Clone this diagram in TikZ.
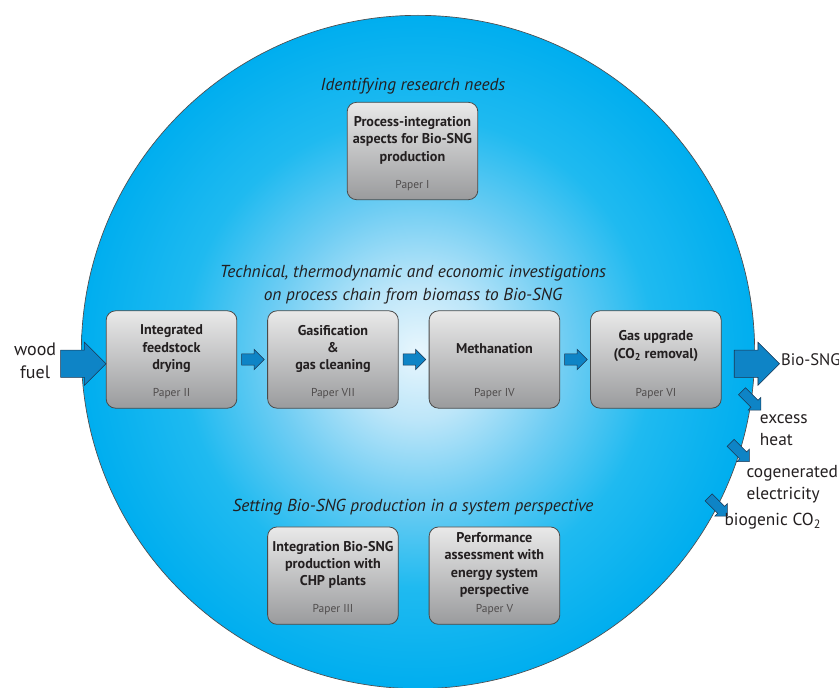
\documentclass[tikz,border=0pt]{standalone}
\usepackage{fontspec}
\setmainfont{PT Sans}
\usetikzlibrary{positioning, shapes.arrows, calc}

\definecolor{hubin}{HTML}{E8F6FD}
\definecolor{hubpale}{HTML}{BDE6F9}
\definecolor{hubmid}{HTML}{6FCDF3}
\definecolor{hubsky}{HTML}{1FBAF0}
\definecolor{hubout}{HTML}{00AEEF}
\definecolor{boxtop}{HTML}{E9E9E9}
\definecolor{boxbot}{HTML}{9A9B9D}
\definecolor{boxline}{HTML}{4A4A4A}
\definecolor{flowfill}{HTML}{0E84C6}
\definecolor{flowline}{HTML}{1C3550}
\definecolor{ink}{HTML}{231F20}

% pale centre fading to cyan at the rim
\pgfdeclareradialshading{hubglow}{\pgfpoint{0bp}{0bp}}{%
  color(0bp)=(hubin); color(5bp)=(hubpale); color(11bp)=(hubmid);
  color(17.5bp)=(hubsky); color(25bp)=(hubout); color(50bp)=(hubout)}

\begin{document}
\begin{tikzpicture}[
  x=0.75pt, y=0.75pt,
  node distance=22.5pt,
  box/.style={rectangle, draw=boxline, line width=0.6pt, rounded corners=7pt,
    top color=boxtop, bottom color=boxbot, minimum width=98pt, minimum height=73pt},
  title/.style={anchor=center, yshift=8pt, align=center, text=ink,
    font=\fontsize{10.6}{13}\selectfont\bfseries},
  papertag/.style={anchor=base, yshift=9pt, inner sep=0pt, text=ink!80,
    font=\fontsize{8.6}{10}\selectfont},
  heading/.style={align=center, text=ink, font=\fontsize{13}{17}\selectfont\itshape},
  flow/.style={single arrow, draw=flowline, fill=flowfill, line width=0.4pt, xshift=-1.5pt,
    inner xsep=0pt, inner ysep=4pt, single arrow head extend=3.5pt, minimum height=17pt},
  bigflow/.style={flow, xshift=-2pt, inner ysep=10pt, single arrow head extend=6pt, minimum height=34pt},
  sideflow/.style={flow, rotate=-45, inner ysep=3.5pt, single arrow head extend=3pt, minimum height=20pt},
  outtext/.style={align=left, inner sep=0pt, text=ink, font=\fontsize{13}{16.5}\selectfont},
]
\useasboundingbox (0,0) rectangle (839,687);

% the disc behind everything
\node[circle, draw=ink!80, line width=0.5pt, shade, shading=hubglow,
  minimum size=505pt, inner sep=0pt] (hub) at (418,335) {};

% section headings
\node[heading] (needs) at (413,601) {Identifying research needs};
\node[heading] (chain) at (413,402.5) {Technical, thermodynamic and economic investigations\\on process chain from biomass to Bio-SNG};
\node[heading] (system) at (413,180) {Setting Bio-SNG production in a system perspective};

% papers
\node[box, label={[title]center:Process-integration\\aspects for Bio-SNG\\production},
  label={[papertag]south:Paper I}] (integ) at (412.5,536) {};

\node[box, label={[title]center:Integrated\\feedstock\\drying},
  label={[papertag]south:Paper II}] (dry) at (171.5,327.5) {};
\node[box, right=of dry, label={[title]center:Gasification\\\&\\gas cleaning},
  label={[papertag]south:Paper VII}] (gasif) {};
\node[box, right=of gasif, label={[title]center:Methanation},
  label={[papertag]south:Paper IV}] (meth) {};
\node[box, right=of meth, label={[title, yshift=2pt]center:Gas upgrade\\(CO\textsubscript{2} removal)},
  label={[papertag]south:Paper VI}] (upgrade) {};

\node[box, below=88.5pt of gasif, label={[title]center:Integration Bio-SNG\\production with\\CHP plants},
  label={[papertag]south:Paper III}] (chp) {};
\node[box, below=88.5pt of meth, label={[title]center:Performance\\assessment with\\energy system\\perspective},
  label={[papertag]south:Paper V}] (perf) {};

% process chain arrows
\node[flow] (f1) at ($(dry.east)!0.5!(gasif.west)$) {};
\node[flow] (f2) at ($(gasif.east)!0.5!(meth.west)$) {};
\node[flow] (f3) at ($(meth.east)!0.5!(upgrade.west)$) {};

% in and out
\node[bigflow] (wood) at (hub.182) {};
\node[outtext, align=center, anchor=east, font=\fontsize{13.5}{17}\selectfont] (woodtxt)
  at ($(wood.west)+(-4,3)$) {wood\\fuel};

\node[bigflow] (sng) at (hub.-2) {};
\node[outtext, anchor=west, font=\fontsize{12.5}{16}\selectfont] (sngtxt) at ($(sng.east)+(1,4)$) {Bio-SNG};

\node[sideflow] (heat) at (hub.-8) {};
\node[outtext, anchor=west] (heattxt) at ($(heat.center)+(10,-31)$) {excess\\heat};
\node[sideflow] (elec) at (hub.-17.5) {};
\node[outtext, anchor=west] (electxt) at ($(elec.center)+(8,-34)$) {cogenerated\\electricity};
\node[sideflow] (co2) at (hub.-27.5) {};
\node[outtext, anchor=west] (co2txt) at ($(co2.center)+(8,-16)$) {biogenic CO\textsubscript{2}};

\end{tikzpicture}
\end{document}
